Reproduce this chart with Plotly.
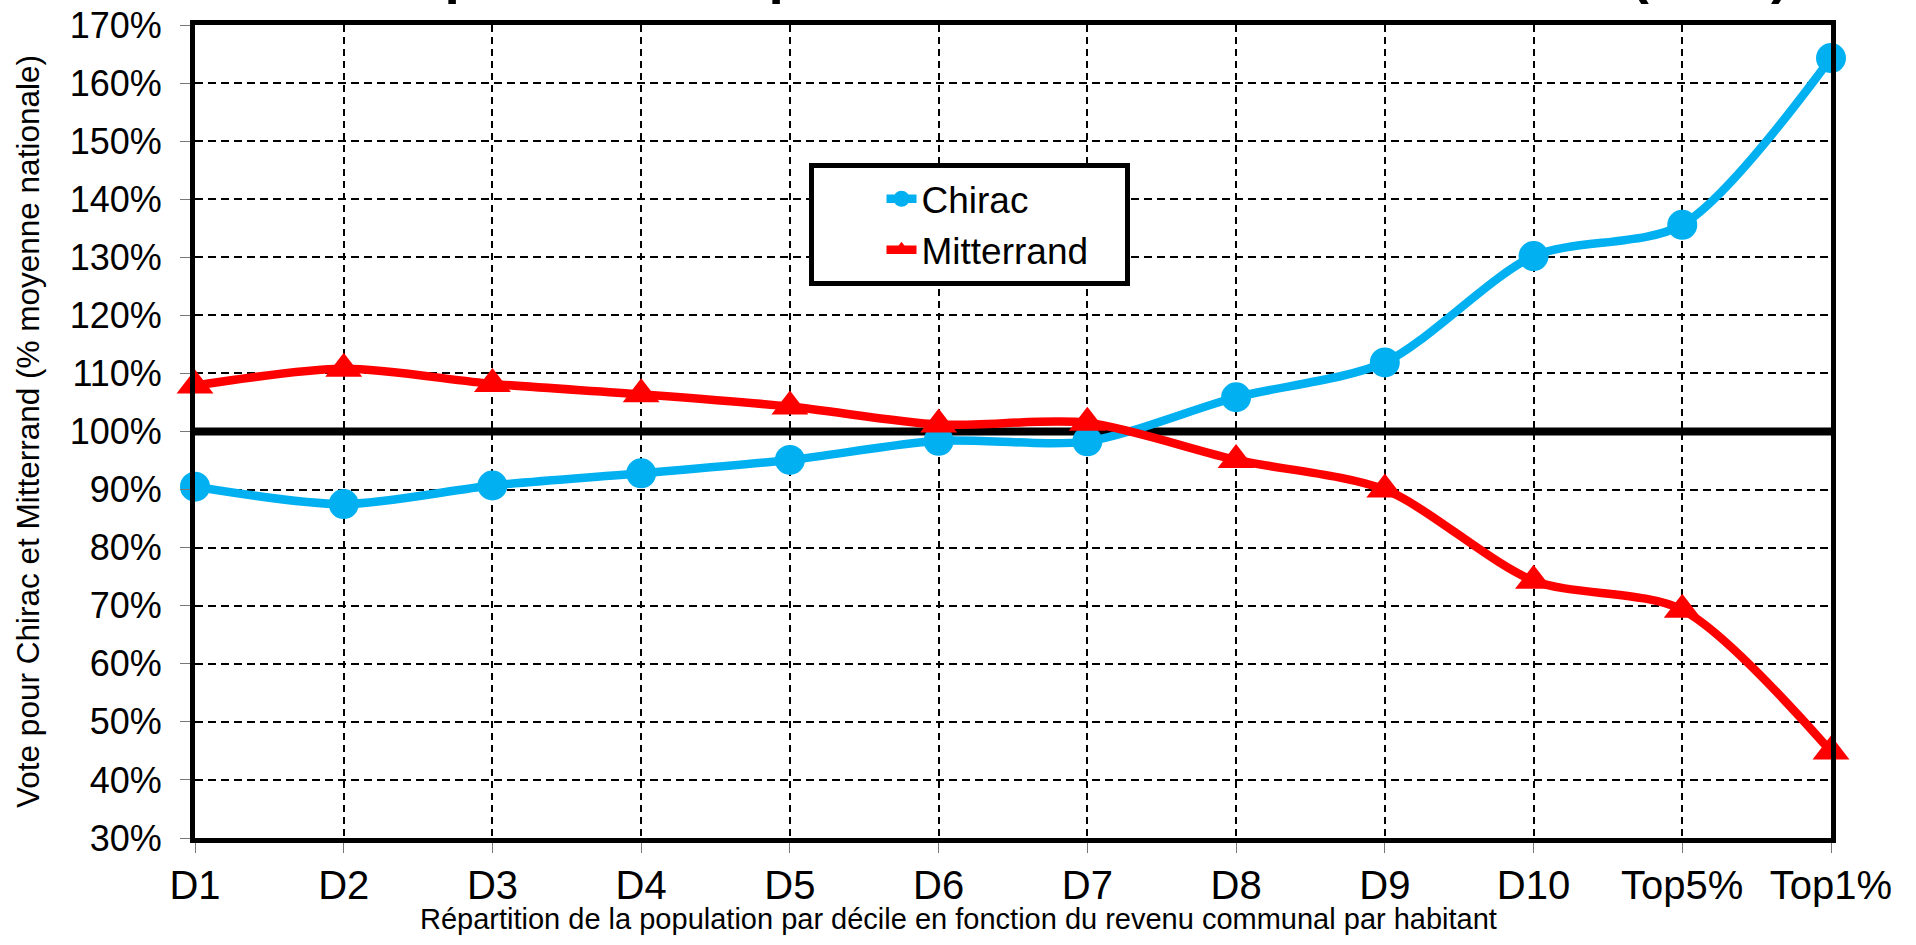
import plotly.graph_objects as go

categories = ["D1", "D2", "D3", "D4", "D5", "D6", "D7", "D8", "D9", "D10", "Top5%", "Top1%"]
chirac = [90.5, 87.5, 90.7, 92.8, 95.1, 98.4, 98.3, 105.9, 111.9, 130.2, 135.6, 164.3]
mitterrand = [107.9, 110.8, 108.2, 106.4, 104.3, 101.2, 101.5, 95.1, 90.0, 74.3, 69.3, 44.9]
y_ticks = list(range(30, 171, 10))
y_tick_labels = [f"{v}%" for v in y_ticks]

title_text = "Le vote présidentiel par revenu communal en France (1988)"
x_title = "Répartition de la population par décile en fonction du revenu communal par habitant"
y_title = "Vote pour Chirac et Mitterrand (% moyenne nationale)"

FONT = "Liberation Sans, Arial, sans-serif"
NBSP = "\u00a0"
xpos = list(range(len(categories)))

fig = go.Figure()
fig.add_trace(go.Scatter(
    x=xpos, y=chirac, name="Chirac", mode="lines+markers",
    line=dict(color="#00B0F0", width=8.5, shape="spline", smoothing=0.8),
    marker=dict(symbol="circle", size=30, color="#00B0F0"),
    cliponaxis=False, legendgroup="c",
))
fig.add_trace(go.Scatter(
    x=xpos, y=mitterrand, name="Mitterrand" + NBSP * 3, mode="lines+markers",
    line=dict(color="#FF0000", width=8.5, shape="spline", smoothing=0.8),
    marker=dict(symbol="triangle-up", size=32, color="#FF0000"),
    cliponaxis=False, legendgroup="m",
))

fig.add_shape(type="line", xref="paper", x0=0, x1=1, yref="y", y0=100, y1=100,
              line=dict(color="black", width=8), layer="below")

fig.add_annotation(text=x_title, xref="paper", yref="paper", x=0.4664, y=-0.1218,
                   xanchor="center", yanchor="bottom", showarrow=False,
                   font=dict(family=FONT, size=29, color="black"))

fig.update_layout(
    width=1916, height=945,
    margin=dict(l=195, r=85, t=25, b=107, autoexpand=False),
    paper_bgcolor="white", plot_bgcolor="white",
    font=dict(family=FONT, color="black"),
    title=dict(text=f"<b>{title_text}</b>", xref="paper", x=0.5, xanchor="center",
               yref="container", y=1, yanchor="bottom", pad=dict(b=8),
               font=dict(family=FONT, size=55, color="black")),
    showlegend=True,
    legend=dict(x=0.375, y=0.83, xanchor="left", yanchor="top",
                bgcolor="white", bordercolor="black", borderwidth=5,
                font=dict(family=FONT, size=37, color="black"),
                tracegroupgap=0, indentation=68),
)
fig.update_xaxes(
    range=[0, 11], tickmode="array", tickvals=xpos, ticktext=categories,
    showline=True, linecolor="black", linewidth=5, mirror=True,
    showgrid=True, gridcolor="black", gridwidth=2, griddash="7px,5px",
    ticks="outside", ticklen=10, tickcolor="#777", tickwidth=1,
    tickfont=dict(family=FONT, size=40, color="black"), ticklabelstandoff=-2,
    zeroline=False, automargin=False,
)
fig.update_yaxes(
    range=[30, 170], tickmode="array", tickvals=y_ticks, ticktext=y_tick_labels,
    showline=True, linecolor="black", linewidth=5, mirror=True,
    showgrid=True, gridcolor="black", gridwidth=2, griddash="8px,5px",
    ticks="outside", ticklen=10, tickcolor="#777", tickwidth=1,
    tickfont=dict(family=FONT, size=36, color="black"), ticklabelstandoff=11,
    zeroline=False, automargin=False,
    title=dict(text=y_title, font=dict(family=FONT, size=31.5, color="black"), standoff=22),
)

fig.write_html(
    "out.html",
    config={"displayModeBar": False},
    post_script="document.body.style.margin='0';document.body.style.overflow='hidden';",
)
